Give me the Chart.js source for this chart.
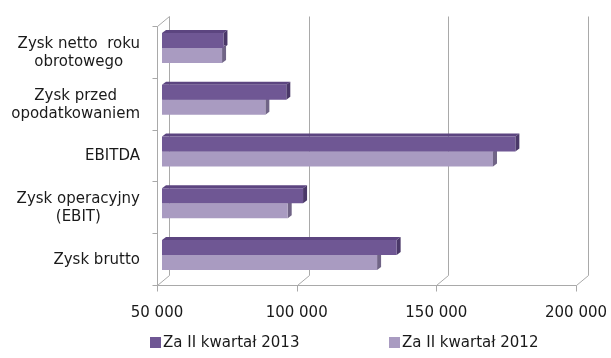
<!DOCTYPE html>
<html>
<head>
<meta charset="utf-8">
<script src="https://cdn.jsdelivr.net/npm/chart.js@4/dist/chart.umd.min.js"></script>
<style>
  html, body { margin: 0; padding: 0; background: #fff; }
  #wrap { width: 611px; height: 358px; }
</style>
</head>
<body>
<div id="wrap"><canvas id="chart1"></canvas></div>
<script>
const categories = [
    ['Zysk netto  roku', 'obrotowego'],
    ['Zysk przed', 'opodatkowaniem'],
    ['EBITDA'],
    ['Zysk operacyjny', '(EBIT)'],
    ['Zysk brutto']
];
const seriesNames = ['Za II kwartał 2013', 'Za II kwartał 2012'];
const values2013 = [72000, 94500, 176500, 100500, 134000];
const values2012 = [71500, 87000, 168500, 95000, 127000];
const xTicks = [50000, 100000, 150000, 200000];

const FONT = '15px "DejaVu Sans", sans-serif';
const GRID = '#a9a9a9';

// depth of the back wall, position of the bars inside it, and bar extrusion
const WALL = { dx: 12, dy: -10 };
const BAR = { dx: 5, dy: -4 };
const EXT = { dx: 4, dy: -3 };

const fmt = v => String(v).replace(/\B(?=(\d{3})+(?!\d))/g, ' ');

const faces = [
    { front: '#6f5794', top: '#5c4580', side: '#4a3868' },
    { front: '#a99bc1', top: '#8f80a8', side: '#706486' }
];

function line(ctx, x1, y1, x2, y2) {
    ctx.beginPath();
    ctx.moveTo(x1, y1);
    ctx.lineTo(x2, y2);
    ctx.stroke();
}

const frame3d = {
    id: 'frame3d',
    beforeDatasetsDraw(chart) {
        const { ctx, chartArea: a, scales: { x } } = chart;
        const L = Math.round(a.left) + 0.5, B = Math.round(a.bottom) + 0.5, T = Math.round(a.top) + 0.5;

        ctx.save();
        ctx.strokeStyle = GRID;
        ctx.lineWidth = 1;
        // back wall: vertical gridlines and floor edges
        xTicks.forEach(v => {
            const px = Math.round(x.getPixelForValue(v)) + 0.5;
            line(ctx, px + WALL.dx, T + WALL.dy, px + WALL.dx, B + WALL.dy);
            line(ctx, px, B, px + WALL.dx, B + WALL.dy);
            line(ctx, px, B, px, B + 6);
        });
        line(ctx, L, T, L + WALL.dx, T + WALL.dy);
        // front axes
        line(ctx, L, T, L, B);
        line(ctx, L, B, Math.round(a.right) + 0.5, B);
        const n = categories.length;
        for (let i = 0; i <= n; i++) {
            const py = Math.round(a.top + (a.bottom - a.top) * i / n) + 0.5;
            line(ctx, L - 5, py, L, py);
        }
        ctx.restore();

        // bars sit part way into the depth; draw their top and side faces first
        ctx.save();
        ctx.translate(BAR.dx, BAR.dy);
        chart.data.datasets.forEach((ds, di) => {
            const meta = chart.getDatasetMeta(di);
            const f = faces[di];
            meta.data.forEach(bar => {
                const p = bar.getProps(['x', 'y', 'base', 'height'], true);
                const xe = p.x;
                const x0 = Math.max(p.base, a.left);
                const t = p.y - p.height / 2, b = p.y + p.height / 2;
                ctx.fillStyle = f.top;
                ctx.beginPath();
                ctx.moveTo(x0, t);
                ctx.lineTo(x0 + EXT.dx, t + EXT.dy);
                ctx.lineTo(xe + EXT.dx, t + EXT.dy);
                ctx.lineTo(xe, t);
                ctx.closePath();
                ctx.fill();
                ctx.fillStyle = f.side;
                ctx.beginPath();
                ctx.moveTo(xe, t);
                ctx.lineTo(xe + EXT.dx, t + EXT.dy);
                ctx.lineTo(xe + EXT.dx, b + EXT.dy);
                ctx.lineTo(xe, b);
                ctx.closePath();
                ctx.fill();
            });
        });
    },
    afterDatasetsDraw(chart) {
        chart.ctx.restore();
    },
    afterDraw(chart) {
        const { ctx, chartArea: a, scales: { y } } = chart;
        ctx.save();
        ctx.font = FONT;
        ctx.fillStyle = '#1a1a1a';
        ctx.textAlign = 'center';
        ctx.textBaseline = 'middle';

        // category labels: block right-aligned, lines centred within it
        const right = a.left - 17;
        const lh = 18;
        categories.forEach((lines, i) => {
            const w = Math.max(...lines.map(s => ctx.measureText(s).width));
            const cx = right - w / 2;
            const cy = y.getPixelForValue(i) + 1;
            lines.forEach((s, k) => {
                ctx.fillText(s, cx, cy + (k - (lines.length - 1) / 2) * lh);
            });
        });

        // legend
        ctx.textAlign = 'left';
        const lx = [150, 389];
        const ly = 342;
        chart.data.datasets.forEach((ds, di) => {
            ctx.fillStyle = ds.backgroundColor;
            ctx.fillRect(lx[di], ly - 5, 11, 11);
            ctx.fillStyle = '#1a1a1a';
            ctx.fillText(ds.label, lx[di] + 13, ly + 1);
        });
        ctx.restore();
    }
};

new Chart(document.getElementById('chart1'), {
    type: 'bar',
    data: {
        labels: categories,
        datasets: [
            { label: seriesNames[0], data: values2013, backgroundColor: faces[0].front },
            { label: seriesNames[1], data: values2012, backgroundColor: faces[1].front }
        ]
    },
    options: {
        indexAxis: 'y',
        responsive: true,
        maintainAspectRatio: false,
        animation: false,
        layout: { padding: { top: 26, right: 35, left: 0, bottom: 28 } },
        datasets: {
            bar: { categoryPercentage: 0.58, barPercentage: 1, borderWidth: 0 }
        },
        scales: {
            x: {
                min: 50000,
                max: 200000,
                afterBuildTicks: s => { s.ticks = xTicks.map(v => ({ value: v })); },
                afterFit: s => { s.height = 45; s.paddingLeft = 0; s.paddingRight = 0; },
                grid: { display: false, drawTicks: false },
                border: { display: false },
                ticks: {
                    padding: 19,
                    color: '#1a1a1a',
                    font: { family: '"DejaVu Sans", sans-serif', size: 15 },
                    maxRotation: 0,
                    callback: v => fmt(v)
                }
            },
            y: {
                afterFit: s => { s.width = 157; },
                grid: { display: false, drawTicks: false },
                border: { display: false },
                ticks: { display: false }
            }
        },
        plugins: {
            legend: { display: false },
            tooltip: { enabled: false }
        }
    },
    plugins: [frame3d]
});
</script>
</body>
</html>
